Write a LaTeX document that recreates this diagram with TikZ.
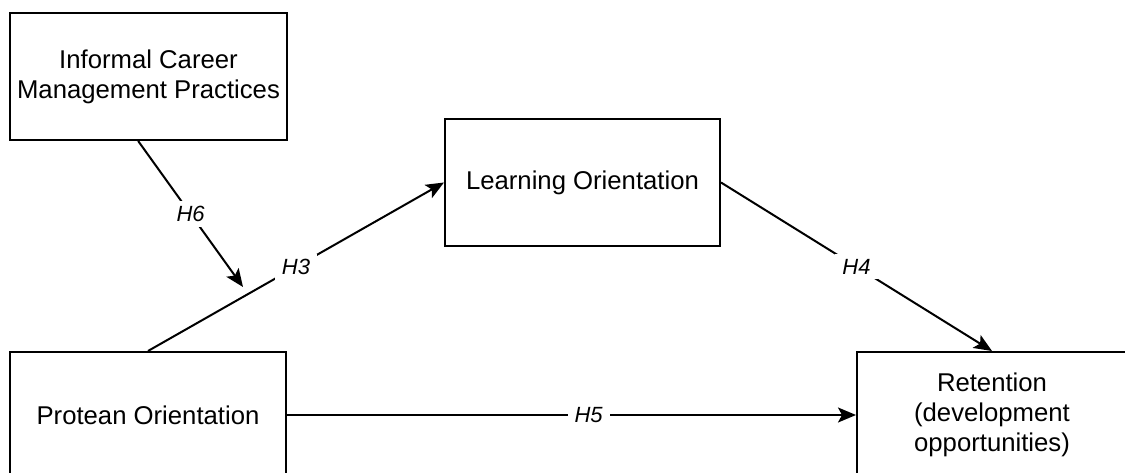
\documentclass[tikz,border=0pt]{standalone}
\usepackage{fontspec}
\setmainfont{Liberation Sans}
\usetikzlibrary{arrows.meta,calc}
\begin{document}
\begin{tikzpicture}[x=1pt,y=-1pt,
  construct/.style={draw=black, line width=2pt, fill=white, align=center,
    inner sep=0pt, font=\fontsize{25.7}{30}\selectfont},
  path/.style={draw=black, line width=2pt, -{Stealth[length=18pt,width=15pt,inset=4pt]}},
  hyp/.style={fill=white, inner xsep=7pt, inner ysep=5pt, font=\fontsize{22}{24}\selectfont\itshape}]
\useasboundingbox (0,0) rectangle (1125,473);
\clip (0,0) rectangle (1125,473);
% constructs
\node[construct, minimum width=277pt, minimum height=127pt] (icmp) at (148.5,76.5)
  {Informal Career\\Management Practices};
\node[construct, minimum width=275pt, minimum height=127pt] (lo) at (582.5,182.5)
  {Learning Orientation};
\node[construct, minimum width=276pt, minimum height=126pt] (po) at (148,415)
  {Protean Orientation};
\node[construct, minimum width=270pt, minimum height=126pt] (ret) at (992,415)
  {Retention\\(development\\opportunities)};
% moderation target on the H3 path
\coordinate (mod) at (243,287);
% hypothesised paths
\draw[path] ($(icmp.south west)!0.463!(icmp.south east)$) -- (mod)
  node[hyp, midway] {H6};
\draw[path] (po.north) -- (lo.west) node[hyp, midway] {H3};
\draw[path] (lo.east) -- (ret.north) node[hyp, midway] {H4};
\draw[path] (po.east) -- (ret.west) node[hyp, pos=0.53] {H5};
\end{tikzpicture}
\end{document}
